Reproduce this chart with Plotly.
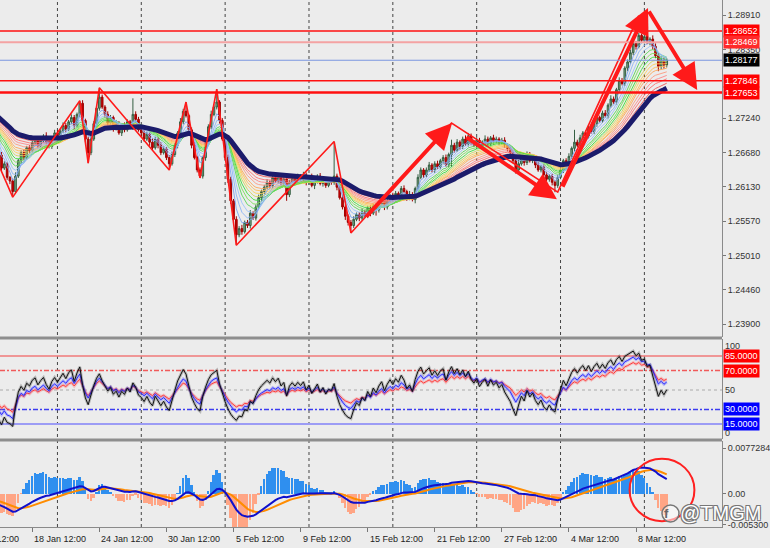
import plotly.graph_objects as go

# ---------------- DATA ----------------
closes = [
    1.2735, 1.2728, 1.2731, 1.2720, 1.2712, 1.2716, 1.2704, 1.2698, 1.2690, 1.2694, 1.2680, 1.2672, 1.2664,
    1.2643, 1.2650, 1.2628, 1.2622, 1.2605, 1.2630, 1.2655, 1.2668, 1.2660, 1.2676, 1.2671, 1.2684,
    1.2690, 1.2679, 1.2688, 1.2695, 1.2685, 1.2678, 1.2692, 1.2700, 1.2694, 1.2703, 1.2712, 1.2706,
    1.2718, 1.2725, 1.2712, 1.2730, 1.2748, 1.2720, 1.2690, 1.2668, 1.2690, 1.2715, 1.2740, 1.2758,
    1.2742, 1.2730, 1.2716, 1.2725, 1.2708, 1.2715, 1.2700, 1.2712, 1.2705, 1.2718, 1.2710, 1.2730,
    1.2722, 1.2705, 1.2700, 1.2690, 1.2698, 1.2685, 1.2676, 1.2690, 1.2680, 1.2668, 1.2674, 1.2660,
    1.2650, 1.2665, 1.2680, 1.2700, 1.2718, 1.2735, 1.2728, 1.2705, 1.2680, 1.2660, 1.2640, 1.2630,
    1.2660, 1.2685, 1.2710, 1.2730, 1.2742, 1.2750, 1.2720, 1.2690, 1.2660, 1.2625, 1.2590, 1.2560,
    1.2535, 1.2545, 1.2540, 1.2555, 1.2550, 1.2570, 1.2562, 1.2580, 1.2595, 1.2605, 1.2612, 1.2620,
    1.2615, 1.2628, 1.2622, 1.2630, 1.2618, 1.2625, 1.2600, 1.2620, 1.2628, 1.2622, 1.2630, 1.2625,
    1.2632, 1.2620, 1.2628, 1.2615, 1.2622, 1.2630, 1.2618, 1.2625, 1.2615, 1.2622, 1.2620, 1.2630,
    1.2612, 1.2595, 1.2580, 1.2565, 1.2555, 1.2550, 1.2560, 1.2568, 1.2562, 1.2572, 1.2566, 1.2578,
    1.2570, 1.2582, 1.2575, 1.2585, 1.2592, 1.2580, 1.2590, 1.2598, 1.2592, 1.2602, 1.2598, 1.2610,
    1.2605, 1.2595, 1.2600, 1.2592, 1.2610, 1.2628, 1.2640, 1.2632, 1.2640, 1.2648, 1.2640, 1.2650,
    1.2645, 1.2655, 1.2660, 1.2648, 1.2665, 1.2680, 1.2672, 1.2685, 1.2678, 1.2690, 1.2682, 1.2695,
    1.2685, 1.2680, 1.2688, 1.2678, 1.2685, 1.2690, 1.2682, 1.2692, 1.2686, 1.2690, 1.2684, 1.2688,
    1.2680, 1.2675, 1.2668, 1.2655, 1.2640, 1.2650, 1.2660, 1.2652, 1.2665, 1.2655, 1.2660, 1.2648,
    1.2640, 1.2645, 1.2632, 1.2625, 1.2630, 1.2620, 1.2615, 1.2628, 1.2640, 1.2655, 1.2648, 1.2662,
    1.2675, 1.2685, 1.2680, 1.2692, 1.2700, 1.2695, 1.2708, 1.2702, 1.2715, 1.2725, 1.2720, 1.2732,
    1.2728, 1.2745, 1.2755, 1.2750, 1.2770, 1.2785, 1.2780, 1.2805, 1.2815, 1.2830, 1.2845, 1.2840,
    1.2858, 1.2850, 1.2856, 1.2848, 1.2852, 1.2840, 1.2825, 1.2808, 1.2818, 1.2810, 1.2818,
]
up_wick = [
    3,4,2,5,3,2,4,3,5,2,3,4, 3,5,4,3,2,4,6,3,4,5,3,4, 4,3,5,4,3,6,4,3,5,4,3,5,
    4,3,5,4,3,4,5,3,4,6,4,5, 15,4,3,5,4,3,6,4,3,5,4,3, 26,5,4,3,5,4,3,6,4,3,5,4,
    3,4,5,4,3,6,4,15,3,4,5,3, 4,3,5,4,6,4,21,3,4,3,5,4, 3,5,4,6,3,4,5,3,4,5,3,4,
    5,3,4,6,3,4,5,3,4,3,5,4, 3,5,4,3,6,4,3,5,4,3,4,5, 56,4,3,5,4,3,4,5,3,4,6,3,
    4,5,3,4,5,3,6,4,3,5,4,3, 4,5,3,6,4,3,5,4,3,4,5,3, 4,5,3,4,5,3,9,4,5,3,4,6,
    5,4,3,5,4,3,6,4,3,5,4,3, 4,5,3,4,5,3,6,4,3,5,4,3, 4,5,3,4,5,3,4,3,4,5,3,4,
    5,3,20,4,5,3,4,6,3,4,5,3, 4,5,3,6,4,3,5,4,3,4,5,3, 4,4,3,5,4,3,6,5,4,5,4,3,
]
dn_wick = [
    4,3,5,2,4,3,2,5,4,3,4,3, 4,5,3,4,5,9,4,3,5,4,3,4, 3,5,4,3,4,5,3,4,3,5,4,3,
    5,3,4,6,3,4,4,5,17,4,3,5, 4,3,5,4,3,6,4,3,5,4,3,4, 5,4,3,5,4,3,6,4,3,5,4,3,
    4,10,3,4,5,3,4,3,4,5,3,4, 3,4,5,3,4,3,4,5,3,4,6,5, 6,17,4,5,3,4,5,3,4,3,5,4,
    3,5,4,3,4,5,3,10,4,3,5,4, 4,3,5,4,3,6,4,3,5,4,3,4, 4,5,3,4,6,5,12,4,3,5,4,3,
    4,5,3,9,4,3,5,4,3,4,5,3, 4,3,5,4,3,6,4,3,5,4,3,4, 5,3,4,5,3,4,20,4,3,5,4,3,
    4,5,3,4,3,5,4,3,4,5,3,4, 3,4,5,3,4,6,4,3,5,4,3,4, 5,3,4,5,3,4,5,11,4,3,5,4,
    3,4,5,3,4,3,5,4,3,4,5,3, 4,3,5,4,3,4,5,3,4,5,3,4, 5,3,4,5,4,6,5,4,8,5,6,4,
]
first_open = 1.2740
pip = 0.0001
ema_seed = 1.2748

ribbon_periods = [4, 6, 8, 10, 12, 14, 16, 18, 20, 22, 25, 28, 31, 35]
ribbon_colors = ['#7EA6F2', '#8DB6F6', '#9CC4FA', '#5AD65A', '#7EE05A', '#3DE23D',
                 '#D2D860', '#FFD35A', '#FFBE5A', '#FFA85A', '#FF9B80', '#FF8A8A',
                 '#FF7070', '#F05A5A']
navy_period = 40

rsi_periods = [8, 14, 21]
rsi_colors = ['#111111', '#2B2BFF', '#FF3B3B']
rsi_halo = ['rgba(0,0,0,0.22)', 'rgba(70,70,255,0.30)', 'rgba(255,90,90,0.30)']
macd_fast, macd_slow, macd_sig = 12, 26, 9
hist_scale = 4.5

price_ticks = [1.28910, 1.28350, 1.27240, 1.26680, 1.26130, 1.25570, 1.25010, 1.24460, 1.23900]
level_prices = [1.28652, 1.28469, 1.28177, 1.27846, 1.27653]
level_line_colors = ['#FF1010', '#F4A3A3', '#7B96E0', '#FF1010', '#FF1010']
level_line_widths = [1.5, 2, 1, 1.5, 2.5]
level_box_colors = ['#FF0000', '#FF2A2A', '#000000', '#FF0000', '#FF0000']

rsi_levels = [85, 70, 50, 30, 15]
rsi_level_colors = ['#F07A7A', '#F05A5A', '#AAAAAA', '#3C3CF0', '#9C9CF5']
rsi_level_dash = ['solid', '5px,2px,2px,2px', 'dot', '5px,2px,2px,2px', 'solid']
rsi_level_widths = [1.5, 1.5, 1, 1.5, 2]
rsi_label_vals = [95.3, 85, 70, 50, 30, 15, 5.8]
rsi_label_text = ['100', '85.0000', '70.0000', '50', '30.0000', '15.0000', '0']
rsi_label_bg = [None, '#FF0000', '#FF0000', None, '#0000FF', '#0000FF', None]

macd_ticks = [0.0077284, 0.0, -0.0053]
macd_ticktext = ['0.0077284', '0.00', '-0.005300']

date_bars = [0, 24, 48, 72, 96, 120, 144, 168, 192, 216, 240]
date_labels = ['12 Jan 12:00', '18 Jan 12:00', '24 Jan 12:00', '30 Jan 12:00', '5 Feb 12:00',
               '9 Feb 12:00', '15 Feb 12:00', '21 Feb 12:00', '27 Feb 12:00', '4 Mar 12:00', '8 Mar 12:00']
grid_bars = [33, 63, 93, 123, 153, 183, 213, 243]

zig_bars = [7, 17, 41, 44, 48, 73, 79, 84, 90, 97, 132, 138, 174, 212, 241]
zig_prices = [1.2700, 1.2596, 1.2752, 1.2651, 1.2773, 1.2640, 1.2750, 1.2627, 1.2771,
              1.2518, 1.2686, 1.2538, 1.2716, 1.2604, 1.2890]

arrow_tail_bars = [143.0, 178.8, 213.5, 244.3]
arrow_tail_prices = [1.25621, 1.26947, 1.26107, 1.28991]
arrow_head_bars = [174.2, 211.7, 244.3, 261.9]
arrow_head_prices = [1.27160, 1.25926, 1.29023, 1.27695]

circle_bar, circle_val, circle_rbar, circle_rval = 249.3, 0.0006, 11.6, 0.0053

x_range = [12.45, 270.77]
price_range = [1.23694, 1.29153]
rsi_range = [-0.41, 102.47]
macd_range = [-0.00569, 0.008917]

# ---------------- INDICATORS ----------------
n = len(closes)
assert len(up_wick) == n and len(dn_wick) == n
bars = list(range(n))
opens = [first_open] + closes[:-1]
highs = [max(o, c) + u * pip for o, c, u in zip(opens, closes, up_wick)]
lows = [min(o, c) - d * pip for o, c, d in zip(opens, closes, dn_wick)]


def ema(vals, period, seed):
    a = 2.0 / (period + 1)
    out, e = [], seed
    for v in vals:
        e = e + a * (v - e)
        out.append(e)
    return out


def rsi(vals, period, seed=0.0005):
    ag, al = seed, seed
    out = [50.0]
    for k in range(1, len(vals)):
        d = vals[k] - vals[k - 1]
        ag = (ag * (period - 1) + max(d, 0)) / period
        al = (al * (period - 1) + max(-d, 0)) / period
        out.append(100 * ag / (ag + al) if ag + al > 0 else 50)
    return out


ef = ema(closes, macd_fast, ema_seed)
es = ema(closes, macd_slow, ema_seed)
macd = [a - b for a, b in zip(ef, es)]
signal = ema(macd, macd_sig, 0.0)
hist = [hist_scale * (m - s) for m, s in zip(macd, signal)]

# ---------------- FIGURE ----------------
fig = go.Figure()

for p, c in zip(reversed(ribbon_periods), reversed(ribbon_colors)):
    fig.add_trace(go.Scatter(x=bars, y=ema(closes, p, ema_seed), mode='lines',
                             line=dict(color=c, width=1), opacity=0.9,
                             xaxis='x', yaxis='y', hoverinfo='skip'))

fig.add_trace(go.Candlestick(
    x=bars, open=opens, high=highs, low=lows, close=closes,
    increasing=dict(line=dict(color='#355E42', width=1), fillcolor='#7BA888'),
    decreasing=dict(line=dict(color='#A00000', width=1), fillcolor='#C80000'),
    whiskerwidth=0, xaxis='x', yaxis='y', showlegend=False, hoverinfo='skip'))

fig.add_trace(go.Scatter(x=bars, y=ema(closes, navy_period, ema_seed), mode='lines',
                         line=dict(color='#1B1B6B', width=5), xaxis='x', yaxis='y', hoverinfo='skip'))

fig.add_trace(go.Scatter(x=zig_bars, y=zig_prices, mode='lines',
                         line=dict(color='#FF1A1A', width=1.6), xaxis='x', yaxis='y', hoverinfo='skip'))

# RSI panel
for p, c, h in zip(reversed(rsi_periods), reversed(rsi_colors), reversed(rsi_halo)):
    r = rsi(closes, p)
    fig.add_trace(go.Scatter(x=bars, y=r, mode='lines', line=dict(color=h, width=3),
                             xaxis='x', yaxis='y2', hoverinfo='skip'))
    fig.add_trace(go.Scatter(x=bars, y=r, mode='lines', line=dict(color=c, width=1),
                             xaxis='x', yaxis='y2', hoverinfo='skip'))

# MACD panel
fig.add_trace(go.Bar(x=bars, y=hist, width=0.7,
                     marker=dict(color=['#2F8FEF' if v >= 0 else '#FFA585' for v in hist], line_width=0),
                     xaxis='x', yaxis='y3', hoverinfo='skip'))
fig.add_trace(go.Scatter(x=bars, y=signal, mode='lines', line=dict(color='#FF8C00', width=2),
                         xaxis='x', yaxis='y3', hoverinfo='skip'))
fig.add_trace(go.Scatter(x=bars, y=macd, mode='lines', line=dict(color='#1010CC', width=2),
                         xaxis='x', yaxis='y3', hoverinfo='skip'))

shapes = []
for g in grid_bars:
    shapes.append(dict(type='line', xref='x', yref='paper', x0=g, x1=g, y0=0, y1=1,
                       line=dict(color='#444444', width=1, dash='dot'), layer='below'))
for lp, lc, lw in zip(level_prices, level_line_colors, level_line_widths):
    shapes.append(dict(type='line', xref='paper', yref='y', x0=0, x1=1, y0=lp, y1=lp,
                       line=dict(color=lc, width=lw)))
for lv, lc, ld, lw in zip(rsi_levels, rsi_level_colors, rsi_level_dash, rsi_level_widths):
    shapes.append(dict(type='line', xref='paper', yref='y2', x0=0, x1=1, y0=lv, y1=lv,
                       line=dict(color=lc, width=lw, dash=ld), layer='below'))
# panel separators
for yp in [1 - 338 / 527, 1 - 440 / 527]:
    shapes.append(dict(type='line', xref='paper', yref='paper', x0=0, x1=1, y0=yp, y1=yp,
                       line=dict(color='#8E8E8E', width=3)))
shapes.append(dict(type='circle', xref='x', yref='y3',
                   x0=circle_bar - circle_rbar, x1=circle_bar + circle_rbar,
                   y0=circle_val - circle_rval, y1=circle_val + circle_rval,
                   line=dict(color='#FF2020', width=2)))
# watermark icon ring
shapes.append(dict(type='circle', xref='paper', yref='paper', x0=662 / 722, x1=679 / 722,
                   y0=(527 - 522) / 527, y1=(527 - 505) / 527,
                   line=dict(color='#777777', width=1.5), fillcolor='rgba(255,255,255,0.55)'))

ann = []
for tb, tp, hb, hp in zip(arrow_tail_bars, arrow_tail_prices, arrow_head_bars, arrow_head_prices):
    ann.append(dict(x=hb, y=hp, ax=tb, ay=tp, xref='x', yref='y', axref='x', ayref='y',
                    showarrow=True, arrowhead=2, arrowsize=1.3, arrowwidth=4,
                    arrowcolor='#FF1A1A', text='', standoff=0))
for lp, bg in zip(level_prices, level_box_colors):
    ann.append(dict(x=1, y=lp, xref='paper', yref='y', xanchor='left', yanchor='middle', xshift=1,
                    text=f'{lp:.5f}', showarrow=False, bgcolor=bg, borderpad=1,
                    font=dict(color='white', size=9, family='Liberation Sans')))
for v, t, bg in zip(rsi_label_vals, rsi_label_text, rsi_label_bg):
    d = dict(x=1, y=v, xref='paper', yref='y2', xanchor='left', yanchor='middle', xshift=1,
             text=t, showarrow=False, borderpad=1,
             font=dict(color='white' if bg else '#333333', size=9, family='Liberation Sans'))
    if bg:
        d['bgcolor'] = bg
    ann.append(d)
span = x_range[1] - x_range[0]
for b, t in zip(date_bars, date_labels):
    ann.append(dict(x=(b - x_range[0]) / span, y=0, xref='paper', yref='paper',
                    xanchor='left', yanchor='top', yshift=-5, text=t, showarrow=False,
                    font=dict(color='#222222', size=9, family='Liberation Sans')))
# watermark
ann.append(dict(x=670.5 / 722, y=(527 - 513.5) / 527, xref='paper', yref='paper', text='<b>f</b>',
                showarrow=False, yanchor='middle', font=dict(size=13, color='#666666', family='Liberation Sans')))
ann.append(dict(x=720 / 722, y=(527 - 513) / 527, xref='paper', yref='paper', text='@TMGM',
                showarrow=False, xanchor='center', yanchor='middle',
                font=dict(size=20, color='white', family='Liberation Sans',
                          shadow='-1px -1px 0 #777, 1px -1px 0 #777, -1px 1px 0 #777, 1px 1px 0 #777')))

axis_common = dict(side='right', anchor='x', showgrid=False, zeroline=False,
                   showline=True, linecolor='#8A8A8A', linewidth=1,
                   ticks='outside', ticklen=3, tickcolor='#777777',
                   tickfont=dict(size=9, color='#333333', family='Liberation Sans'))

fig.update_layout(
    width=770, height=548, margin=dict(l=0, r=48, t=0, b=21),
    paper_bgcolor='#ECECEC', plot_bgcolor='#ECECEC', showlegend=False, hovermode=False,
    font=dict(family='Liberation Sans', size=9, color='#333333'),
    xaxis=dict(range=x_range, domain=[0, 1], anchor='y3', showgrid=False, zeroline=False,
               showticklabels=False, ticks='outside', ticklen=4, tickcolor='#777777',
               tickvals=date_bars, showline=True, linecolor='#8A8A8A',
               rangeslider=dict(visible=False)),
    yaxis=dict(domain=[1 - 337 / 527, 1], range=price_range, tickvals=price_ticks,
               ticktext=[f'{v:.5f}' for v in price_ticks], **axis_common),
    yaxis2=dict(domain=[1 - 439 / 527, 1 - 339 / 527], range=rsi_range,
                showticklabels=False, **{k: v for k, v in axis_common.items() if k not in ('ticks',)}),
    yaxis3=dict(domain=[0, 1 - 441 / 527], range=macd_range, tickvals=macd_ticks,
                ticktext=macd_ticktext, **axis_common),
    shapes=shapes, annotations=ann, bargap=0, boxgap=0.15,
)

fig.write_html('out.html')
